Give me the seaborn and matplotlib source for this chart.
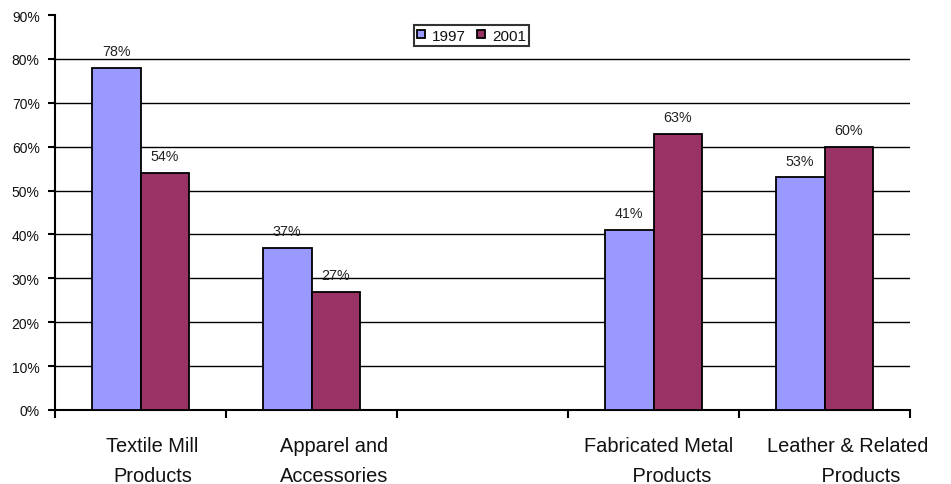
import numpy as np
import pandas as pd
import matplotlib
matplotlib.use("Agg")
import matplotlib.pyplot as plt
import matplotlib.transforms as mtransforms
import seaborn as sns

# Share of industry output, by category and year (percent)
categories = [
    "Textile Mill\nProducts",
    "Apparel and\nAccessories",
    " ",
    "Fabricated Metal\n     Products",
    "Leather & Related\n     Products",
]
years = ["1997", "2001"]
values_1997 = [78, 37, np.nan, 41, 53]
values_2001 = [54, 27, np.nan, 63, 60]
y_ticks = [0, 10, 20, 30, 40, 50, 60, 70, 80, 90]
colors = ["#9999FF", "#993366"]

rows = []
for cat, v97, v01 in zip(categories, values_1997, values_2001):
    if not np.isnan(v97):
        rows.append({"category": cat, "year": "1997", "value": v97})
    if not np.isnan(v01):
        rows.append({"category": cat, "year": "2001", "value": v01})
df = pd.DataFrame(rows)

sns.set_style("white")
plt.rcParams["font.family"] = ["Liberation Sans", "DejaVu Sans"]

fig = plt.figure(figsize=(9.51, 4.85), dpi=100)
ax = fig.add_axes([55 / 951, 1 - 411 / 485, 855 / 951, 395 / 485])

sns.barplot(
    data=df, x="category", y="value", hue="year",
    order=categories, hue_order=years, palette=colors,
    width=0.57, gap=0, errorbar=None, edgecolor="black",
    linewidth=1.3, saturation=1, ax=ax, zorder=3,
)

ax.set_xlim(-0.5, len(categories) - 0.5)
ax.set_ylim(y_ticks[0], y_ticks[-1])
ax.set_yticks(y_ticks)
ax.set_yticklabels([f"{t}%" for t in y_ticks], fontsize=10, color="#111111")
ax.tick_params(axis="y", left=True, length=5, width=1.5, color="black", pad=6)

# horizontal gridlines between the bottom and top of the scale
for t in y_ticks[1:-1]:
    ax.axhline(t, color="black", lw=1.0, zorder=1)

# category boundaries get tick marks, labels sit at category centres
ax.set_xticks(np.arange(-0.5, len(categories)), minor=True)
ax.tick_params(axis="x", which="minor", bottom=True, length=6, width=1.5,
               color="black", direction="out")
ax.tick_params(axis="x", which="major", length=0, pad=19, labelsize=14.4,
               labelcolor="#111111")
ax.set_xlabel("")
ax.set_ylabel("")

label_shift_px = [12, 23, 0, 5, 23]
for lab, dx in zip(ax.get_xticklabels(), label_shift_px):
    lab.set_linespacing(1.7)
    lab.set_transform(lab.get_transform() + mtransforms.ScaledTranslation(dx / 100, 0, fig.dpi_scale_trans))

for side in ["top", "right"]:
    ax.spines[side].set_visible(False)
for side in ["left", "bottom"]:
    ax.spines[side].set_color("black")
    ax.spines[side].set_linewidth(1.5)

for cont in ax.containers:
    ax.bar_label(
        cont, fmt=lambda v: "" if np.isnan(v) else f"{v:.0f}%",
        padding=7, fontsize=10.3, color="#222222",
    )

handles, labels = ax.get_legend_handles_labels()
leg = ax.legend(
    handles, labels, loc="center", bbox_to_anchor=(0.487, 0.948), ncol=2,
    fontsize=11, frameon=True, fancybox=False, edgecolor="black",
    handlelength=0.55, handleheight=0.45, handletextpad=0.45, columnspacing=0.7,
    borderpad=0.2, borderaxespad=0,
)
leg.get_frame().set_linewidth(1.5)
for txt in leg.get_texts():
    txt.set_color("#111111")

fig.savefig("out.png", dpi=100)
